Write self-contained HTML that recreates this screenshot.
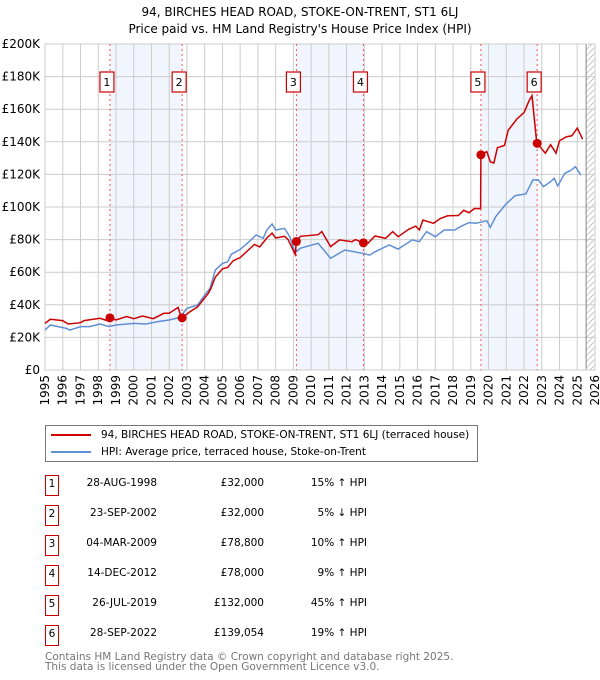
<!DOCTYPE html>
<html><head><meta charset="utf-8"><style>
body{margin:0;background:#fff;font-family:"DejaVu Sans","Liberation Sans",sans-serif;}
#wrap{position:relative;width:600px;height:680px;overflow:hidden;}
.t{position:absolute;font-size:10.5px;color:#000;white-space:nowrap;}
.box{position:absolute;border:1.5px solid #c00;box-sizing:border-box;width:14px;text-align:center;font-size:10.5px;line-height:17px;}
</style></head><body>
<div id="wrap">
<div class="t" style="left:0;width:600px;top:4px;text-align:center;font-size:12px;line-height:17px;">94, BIRCHES HEAD ROAD, STOKE-ON-TRENT, ST1 6LJ<br>Price paid vs. HM Land Registry's House Price Index (HPI)</div>
<svg id="chart" width="600" height="410" style="position:absolute;left:0;top:0;font-family:'DejaVu Sans','Liberation Sans',sans-serif;"></svg>
<div style="position:absolute;left:45px;top:425px;width:433px;height:37px;border:1px solid #777;box-sizing:border-box;">
 <div style="position:absolute;left:5px;top:2px;font-size:10.5px;line-height:14px;white-space:nowrap;"><span style="display:inline-block;width:40px;height:2px;background:#c00;vertical-align:middle;margin-right:10px;"></span>94, BIRCHES HEAD ROAD, STOKE-ON-TRENT, ST1 6LJ (terraced house)</div>
 <div style="position:absolute;left:5px;top:19px;font-size:10.5px;line-height:14px;white-space:nowrap;"><span style="display:inline-block;width:40px;height:2px;background:#5f8fd4;vertical-align:middle;margin-right:10px;"></span>HPI: Average price, terraced house, Stoke-on-Trent</div>
</div>
<div id="table"></div>
<div style="position:absolute;left:45px;top:652px;font-size:10.5px;line-height:10px;color:#777;white-space:nowrap;">Contains HM Land Registry data © Crown copyright and database right 2025.<br>This data is licensed under the Open Government Licence v3.0.</div>
</div>
<script>
const yTicks=[0,20,40,60,80,100,120,140,160,180,200];
const xYears=[1995,1996,1997,1998,1999,2000,2001,2002,2003,2004,2005,2006,2007,2008,2009,2010,2011,2012,2013,2014,2015,2016,2017,2018,2019,2020,2021,2022,2023,2024,2025,2026];
const hpiT=[1995,1995.3,1996.2,1996.4,1997,1997.5,1998.1,1998.6,1999,2000,2000.7,2001.3,2002,2002.6,2003,2003.6,2004,2004.3,2004.6,2005,2005.3,2005.5,2006,2006.4,2006.9,2007.3,2007.5,2007.8,2008,2008.5,2008.8,2009.1,2009.4,2010.4,2011.1,2011.9,2012.9,2013.3,2013.6,2014.4,2014.9,2015.7,2016.1,2016.5,2017,2017.5,2018.1,2018.4,2018.9,2019.3,2019.9,2020.1,2020.4,2021,2021.5,2022.1,2022.5,2022.8,2023.1,2023.5,2023.7,2023.9,2024.3,2024.6,2024.9,2025.2];
const hpiV=[24.5,27.6,25.5,24.5,26.6,26.6,28.2,26.6,27.6,28.6,28.2,29.6,30.7,32.3,37.8,39.9,46,50.1,61.3,65.4,66.4,71,74,77.7,82.8,80.8,85.9,89.6,85.9,86.9,81.8,72,74.7,77.7,68.5,73.6,71.6,70.5,72.5,76.7,74.2,79.8,78.7,84.9,81.8,85.9,85.9,87.9,90.4,90,91.6,87.5,94,102,107,108,116.6,116.6,112.5,115.5,117.6,112.9,120.7,122.3,124.7,119.6];
const priceT=[1995,1995.3,1996,1996.3,1997,1997.2,1998.1,1998.5,1998.66,1999,1999.6,2000,2000.5,2001.1,2001.7,2002,2002.5,2002.6,2002.73,2003.1,2003.6,2004.2,2004.35,2004.6,2005,2005.3,2005.6,2006,2006.4,2006.8,2007.1,2007.5,2007.8,2008,2008.5,2008.7,2009.1,2009.17,2009.4,2010.4,2010.6,2011.1,2011.6,2012.3,2012.5,2012.95,2013.2,2013.6,2014.2,2014.6,2014.9,2015.5,2015.9,2016.1,2016.3,2016.9,2017.3,2017.7,2018.3,2018.6,2018.9,2019.2,2019.55,2019.57,2019.9,2020.1,2020.3,2020.5,2020.9,2021.1,2021.6,2022,2022.3,2022.45,2022.72,2022.9,2023.2,2023.5,2023.8,2024,2024.4,2024.7,2025,2025.3];
const priceV=[28.6,31.1,30.3,28.2,29,30.3,31.7,30.3,32,30.7,32.8,31.5,33.1,31.5,34.8,34.8,38.4,35,32,35.2,38.8,47,50,57,62,63,67,69,73,77,75.5,81,84,81,82,80,70.9,78.8,82,83,85,75.7,79.8,78.7,80,78,77.7,82.2,80.8,84.9,81.8,86.3,88.3,85.9,92,90,93,94.6,94.8,98,96.5,99.1,99,132,134,127.7,127,136.4,137.8,147,154,158,165.6,168.3,139.054,137,133,138.2,133,140.7,143.1,143.7,148.4,141.6];
const saleT=[1998.66,2002.73,2009.17,2012.95,2019.57,2022.74];
const saleV=[32,32,78.8,78,132,139.054];
const saleDates=["28-AUG-1998","23-SEP-2002","04-MAR-2009","14-DEC-2012","26-JUL-2019","28-SEP-2022"];
const salePrices=["£32,000","£32,000","£78,800","£78,000","£132,000","£139,054"];
const saleHpi=["15% ↑ HPI","5% ↓ HPI","10% ↑ HPI","9% ↑ HPI","45% ↑ HPI","19% ↑ HPI"];

const X0=45,X1=595,Y0=370,Y1=44;
const xs=t=>X0+(t-1995)/31*(X1-X0);
const ys=v=>Y0-v/200*(Y0-Y1);
const NS="http://www.w3.org/2000/svg";
const svg=document.getElementById('chart');
function mk(tag,attrs,parent){const e=document.createElementNS(NS,tag);for(const k in attrs)e.setAttribute(k,attrs[k]);(parent||svg).appendChild(e);return e;}
for(let i=0;i<6;i+=2){const b=mk('rect',{x:xs(saleT[i]),y:Y1,width:xs(saleT[i+1])-xs(saleT[i]),height:Y0-Y1,fill:'#f1f5fd'});

}
const defs=mk('defs',{});const pat=mk('pattern',{id:'h',width:6,height:6,patternUnits:'userSpaceOnUse'},defs);mk('path',{d:'M0,6L6,0',stroke:'#bbb','stroke-width':0.8},pat);
const hx=xs(2025.5);
const hr=mk('rect',{x:hx,y:Y1,width:X1-hx,height:Y0-Y1,fill:'url(#h)'});


yTicks.forEach(v=>{const y=ys(v);mk('line',{x1:X0,x2:X1,y1:y,y2:y,stroke:'#ccc','stroke-width':1});
const t=mk('text',{x:40,y:y+4,'text-anchor':'end','font-size':12});t.textContent='£'+v+(v?'K':'');

});
xYears.forEach(yr=>{const x=xs(yr);mk('line',{x1:x,x2:x,y1:Y1,y2:Y0,stroke:'#ccc','stroke-width':1});
const t=mk('text',{x:0,y:0,'text-anchor':'end','font-size':12,transform:`translate(${x+4},${Y0+5}) rotate(-90)`});t.textContent=yr;

});
mk('line',{x1:hx,x2:hx,y1:Y1,y2:Y0,stroke:'#888','stroke-width':1});
mk('rect',{x:X0,y:Y1,width:X1-X0,height:Y0-Y1,fill:'none',stroke:'#ccc'});
saleT.forEach((t,i)=>{const x=xs(t);const l=mk('line',{x1:x,x2:x,y1:Y1,y2:Y0,stroke:'#e55','stroke-width':1,'stroke-dasharray':'2,3'});


const g=mk('g',{});


mk('rect',{x:x-10,y:72,width:14,height:20,fill:'#fff',stroke:'#c00','stroke-width':1.2},g);
const tx=mk('text',{x:x-3,y:86,'text-anchor':'middle','font-size':11},g);tx.textContent=i+1;});
const path=(T,V)=>T.map((t,i)=>(i?'L':'M')+xs(t).toFixed(1)+','+ys(V[i]).toFixed(1)).join('');
const hl=mk('path',{d:path(hpiT,hpiV),fill:'none',stroke:'#5f8fd4','stroke-width':1.5});


const pl=mk('path',{d:path(priceT,priceV),fill:'none',stroke:'#c00','stroke-width':1.5});


saleT.forEach((t,i)=>{const c=mk('circle',{cx:xs(t),cy:ys(saleV[i]),r:4.5,fill:'#c00'});

});
const tb=document.getElementById('table');
saleDates.forEach((d,i)=>{const y=475+i*30;const row=document.createElement('div');


row.innerHTML=`<div class="box" style="left:45px;top:${y}px;height:21px;">${i+1}</div>
<div class="t" style="left:60px;width:97px;text-align:right;top:${y+2}px;">${d}</div>
<div class="t" style="left:160px;width:104px;text-align:right;top:${y+2}px;">${salePrices[i]}</div>
<div class="t" style="left:270px;width:97px;text-align:right;top:${y+2}px;">${saleHpi[i]}</div>`;
tb.appendChild(row);});
</script>
</body></html>
